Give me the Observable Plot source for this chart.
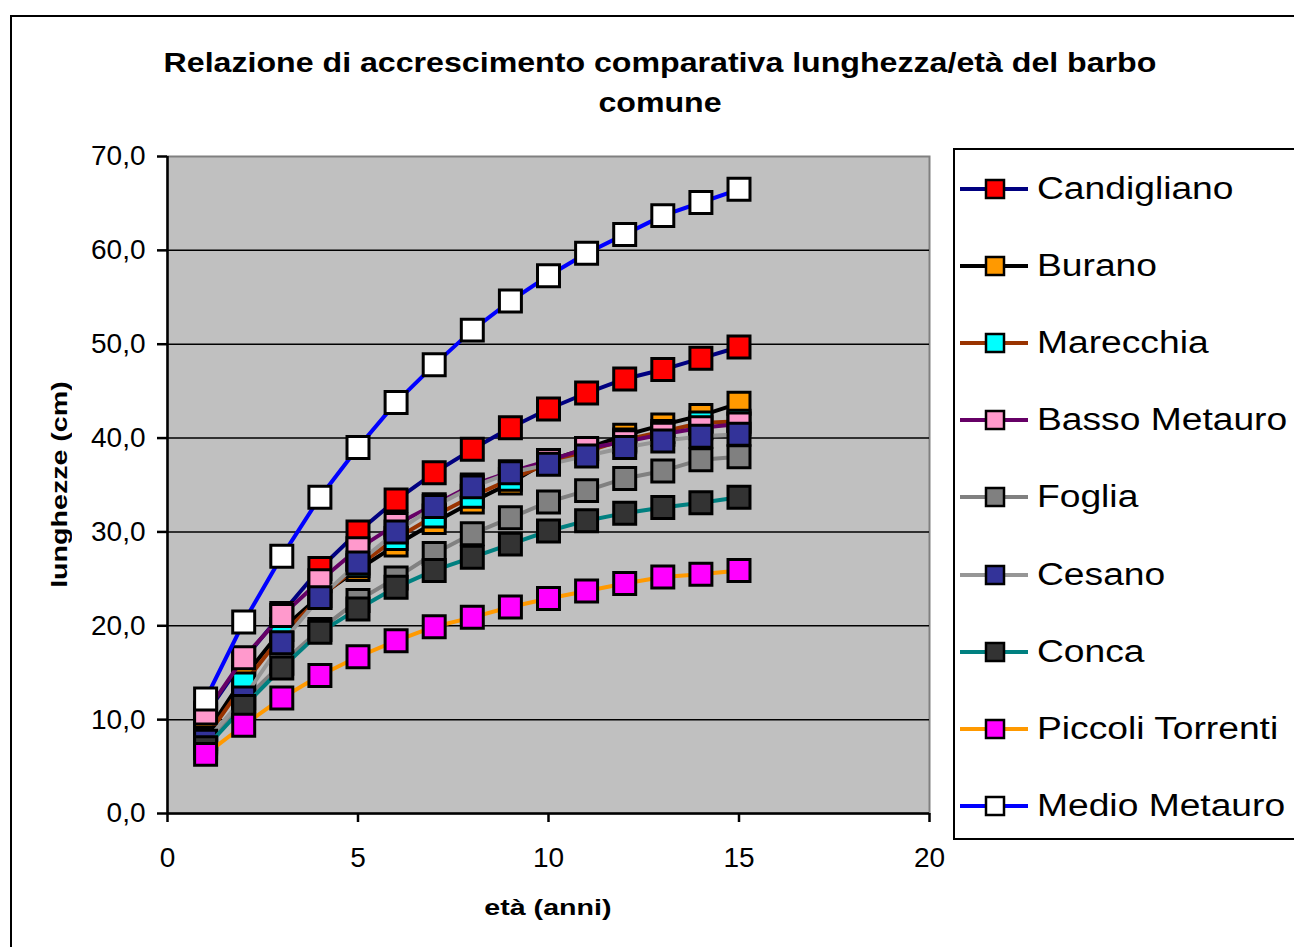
<!DOCTYPE html>
<html>
<head>
<meta charset="utf-8">
<script src="https://cdn.jsdelivr.net/npm/d3@7"></script>
<script src="https://cdn.jsdelivr.net/npm/@observablehq/plot@0.6"></script>
<style>
  html, body { margin: 0; padding: 0; background: #fff; }
  body { width: 1294px; height: 947px; overflow: hidden; position: relative;
         font-family: "Liberation Sans", Arial, sans-serif; color: #000; }
  #outer { position: absolute; left: 10px; top: 15px; width: 1320px; height: 960px;
           border: 2px solid #000; box-sizing: border-box; }
  #title { position: absolute; left: 60px; top: 43px; width: 1200px; text-align: center;
           font-weight: bold; font-size: 27px; line-height: 40px; }
  #title span { display: block; transform: scaleX(1.19); transform-origin: center center; }
  #chart { position: absolute; left: 0; top: 140px; }
  #chart svg text { font-size: 28px !important; }
  .axtitle { position: absolute; font-weight: bold; font-size: 22px; white-space: nowrap; }
  #xtitle { left: 348px; top: 895px; width: 400px; text-align: center; }
  #xtitle span, #ytitle span { display: inline-block; transform: scaleX(1.3); }
  #ytitle { left: 60px; top: 485px; width: 400px; text-align: center; line-height: 26px;
            transform: translate(-50%, -50%) rotate(-90deg); }
  #legend { position: absolute; left: 953px; top: 148px; width: 380px; height: 692px;
            border: 2px solid #000; box-sizing: border-box; background: #fff; }
  .lrow { position: absolute; left: 0; height: 40px; width: 370px; }
  .lrow svg { position: absolute; left: 5px; top: 0; }
  .lrow .ltext { position: absolute; left: 82px; top: 0; line-height: 40px; font-size: 31px;
                 white-space: nowrap; transform: scaleX(1.2); transform-origin: left center; }
</style>
</head>
<body>
<div id="outer"></div>
<div id="title"><span>Relazione di accrescimento comparativa lunghezza/età del barbo</span><span>comune</span></div>
<div id="chart"></div>
<div class="axtitle" id="xtitle"><span>età (anni)</span></div>
<div class="axtitle" id="ytitle"><span>lunghezze (cm)</span></div>
<div id="legend"></div>
<script>
// ---- data ----
const ages = [1, 2, 3, 4, 5, 6, 7, 8, 9, 10, 11, 12, 13, 14, 15];
const seriesNames = ["Candigliano", "Burano", "Marecchia", "Basso Metauro", "Foglia", "Cesano", "Conca", "Piccoli Torrenti", "Medio Metauro"];
const candigliano     = [10.5, 16.4, 21.3, 26.1, 30.0, 33.4, 36.3, 38.8, 41.1, 43.1, 44.8, 46.3, 47.3, 48.5, 49.7];
const burano          = [8.4, 14.5, 19.6, 23.2, 26.0, 28.6, 31.0, 33.2, 35.2, 37.6, 38.9, 40.3, 41.4, 42.4, 43.7];
const marecchia       = [8.0, 13.8, 19.0, 23.0, 26.4, 29.3, 31.7, 33.8, 35.6, 37.3, 38.6, 39.8, 40.7, 41.6, 41.8];
const bassoMetauro    = [10.7, 16.6, 21.1, 24.8, 28.2, 30.8, 32.9, 35.0, 36.4, 37.6, 38.9, 39.6, 40.4, 41.1, 41.5];
const foglia          = [7.5, 12.0, 16.0, 19.6, 22.7, 25.1, 27.7, 29.8, 31.5, 33.2, 34.4, 35.7, 36.5, 37.7, 38.0];
const cesano          = [7.7, 12.3, 18.2, 23.0, 26.7, 30.0, 32.7, 34.8, 36.3, 37.2, 38.1, 39.0, 39.7, 40.2, 40.4];
const conca           = [7.0, 11.4, 15.5, 19.3, 21.8, 24.1, 25.9, 27.3, 28.7, 30.1, 31.2, 32.0, 32.6, 33.1, 33.7];
const piccoliTorrenti = [6.3, 9.4, 12.3, 14.7, 16.7, 18.4, 19.9, 20.9, 22.0, 22.9, 23.7, 24.5, 25.2, 25.5, 25.9];
const medioMetauro    = [12.2, 20.4, 27.4, 33.7, 39.0, 43.8, 47.8, 51.5, 54.6, 57.3, 59.7, 61.7, 63.7, 65.1, 66.5];
const xTicks = [0, 5, 10, 15, 20];
const yTicks = [0, 10, 20, 30, 40, 50, 60, 70];

// ---- styles ----
const seriesValues = [candigliano, burano, marecchia, bassoMetauro, foglia, cesano, conca, piccoliTorrenti, medioMetauro];
const lineColors = ["#000080", "#000000", "#993300", "#660066", "#808080", "#969696", "#008080", "#FF9900", "#0000FF"];
const markerColors = ["#FF0000", "#FF9900", "#00FFFF", "#FF99CC", "#808080", "#333399", "#333333", "#FF00FF", "#FFFFFF"];

const rows = seriesNames.flatMap((name, i) =>
  ages.map((age, j) => ({series: name, age, len: seriesValues[i][j]})));

const fmt = d => d.toFixed(1).replace(".", ",");

const seriesMarks = seriesNames.flatMap((name, i) => {
  const data = rows.filter(r => r.series === name);
  return [
    Plot.line(data, {x: "age", y: "len", stroke: lineColors[i], strokeWidth: 4}),
    Plot.dot(data, {x: "age", y: "len", symbol: "square", r: 12.4, fill: markerColors[i],
                    stroke: "#000", strokeWidth: 3})
  ];
});

const chart = Plot.plot({
  width: 940,
  height: 800,
  marginLeft: 167,
  marginRight: 11,
  marginTop: 16,
  marginBottom: 127,
  style: {fontFamily: "'Liberation Sans', Arial, sans-serif", fontSize: "28px", color: "#000", background: "transparent", overflow: "visible"},
  x: {domain: [0, 20], label: null},
  y: {domain: [0, 70], label: null},
  marks: [
    Plot.frame({fill: "#C0C0C0", stroke: "#808080", strokeWidth: 2}),
    Plot.ruleY(yTicks.filter(d => d > 0 && d < 70), {stroke: "#000", strokeWidth: 1.5}),
    Plot.axisY({ticks: yTicks, tickFormat: fmt, tickSize: 10, tickPadding: 12, fontSize: 28, strokeWidth: 2.5, label: null}),
    Plot.axisX({ticks: xTicks, tickSize: 9, tickPadding: 25, fontSize: 28, strokeWidth: 2.5, label: null}),
    Plot.ruleX([0], {stroke: "#000", strokeWidth: 2.5}),
    Plot.ruleY([0], {stroke: "#000", strokeWidth: 2.5}),
    ...seriesMarks
  ]
});
document.getElementById("chart").appendChild(chart);

// ---- legend ----
const legend = document.getElementById("legend");
seriesNames.forEach((name, i) => {
  const cy = 41 + i * 77.1;
  const row = document.createElement("div");
  row.className = "lrow";
  row.style.top = (cy - 20 - 2) + "px";
  const ns = "http://www.w3.org/2000/svg";
  const svg = document.createElementNS(ns, "svg");
  svg.setAttribute("width", 72); svg.setAttribute("height", 40);
  const ln = document.createElementNS(ns, "line");
  ln.setAttribute("x1", 0); ln.setAttribute("x2", 68); ln.setAttribute("y1", 20); ln.setAttribute("y2", 20);
  ln.setAttribute("stroke", lineColors[i]); ln.setAttribute("stroke-width", 4);
  const rc = document.createElementNS(ns, "rect");
  rc.setAttribute("x", 26); rc.setAttribute("y", 11); rc.setAttribute("width", 18); rc.setAttribute("height", 18);
  rc.setAttribute("fill", markerColors[i]); rc.setAttribute("stroke", "#000"); rc.setAttribute("stroke-width", 2.5);
  svg.appendChild(ln); svg.appendChild(rc);
  const tx = document.createElement("span");
  tx.className = "ltext";
  tx.textContent = name;
  row.appendChild(svg); row.appendChild(tx);
  legend.appendChild(row);
});
</script>
</body>
</html>
